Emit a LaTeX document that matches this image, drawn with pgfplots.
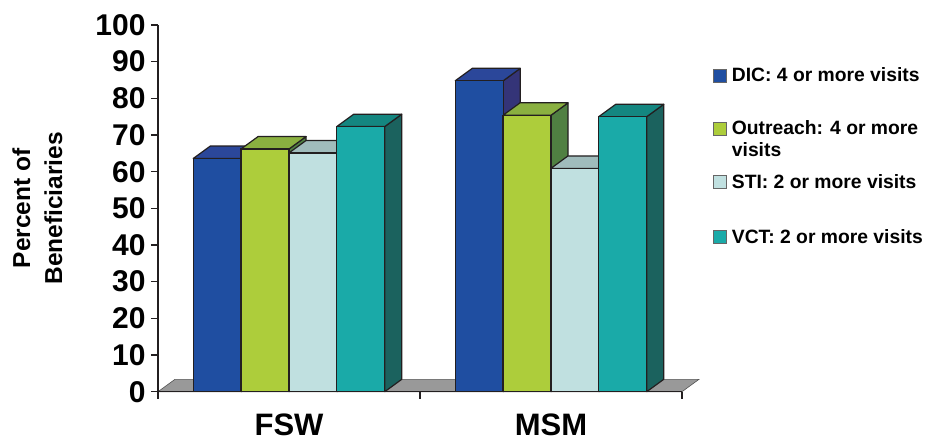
\documentclass[border=0pt]{standalone}
\usepackage{fontspec}
\setmainfont{Liberation Sans}
\usepackage{pgfplots}
\usepackage{pgfplotstable}
\pgfplotsset{compat=1.18}

% bar colours: front, top and side faces
\definecolor{edge}{HTML}{231F20}
\definecolor{dicfront}{HTML}{1F4EA1}
\definecolor{dictop}{HTML}{2B479A}
\definecolor{dicside}{HTML}{343478}
\definecolor{outfront}{HTML}{ADCD3B}
\definecolor{outtop}{HTML}{8AB040}
\definecolor{outside}{HTML}{508042}
\definecolor{stifront}{HTML}{C0E0E0}
\definecolor{stitop}{HTML}{A0BCBC}
\definecolor{stiside}{HTML}{6E8C8C}
\definecolor{vctfront}{HTML}{1AAAA8}
\definecolor{vcttop}{HTML}{148680}
\definecolor{vctside}{HTML}{1B625E}
\definecolor{floorgray}{HTML}{999999}
\definecolor{flooredge}{HTML}{555555}

% percent of beneficiaries per group
\pgfplotstableread{
x dic  outreach sti  vct
0 63.6 66.2     65.1 72.3
1 84.8 75.4     60.9 75.0
}\visits

\def\bw{0.1832}  % bar width (axis units)
\def\dx{0.0649}  % depth offset, x
\def\dy{3.38}    % depth offset, y

% side and top faces of one bar:
% #1 category, #2 bar shift, #3 value, #4 top colour, #5 side colour
\newcommand\barfaces[5]{%
  \pgfmathsetmacro\xa{#1+#2-\bw/2}%
  \pgfmathsetmacro\xb{#1+#2+\bw/2}%
  \pgfmathsetmacro\xc{\xb+\dx}%
  \pgfmathsetmacro\xd{\xa+\dx}%
  \pgfmathsetmacro\ya{#3}%
  \pgfmathsetmacro\yb{#3+\dy}%
  \edef\tmp{%
    \noexpand\addplot[draw=edge, line width=1.2pt, line join=round, fill=#5]
      coordinates {(\xb,0) (\xc,\dy) (\xc,\yb) (\xb,\ya)} -- cycle;
    \noexpand\addplot[draw=edge, line width=1.2pt, line join=round, fill=#4]
      coordinates {(\xa,\ya) (\xb,\ya) (\xc,\yb) (\xd,\yb)} -- cycle;}%
  \tmp}

\begin{document}
\begin{tikzpicture}
\begin{axis}[
  name=ax,
  scale only axis,
  width=524pt, height=366.7pt,
  xmin=-0.5, xmax=1.5, ymin=0, ymax=100,
  clip=false,
  axis on top,
  axis x line*=bottom, axis y line*=left,
  axis line style={line width=1.2pt, edge},
  tick align=outside,
  major tick length=7pt,
  tick style={line width=1.2pt, edge},
  ytick={0,10,...,100},
  xtick={-0.5,0.5,1.5},
  xticklabels={,,},
  extra x ticks={0,1},
  extra x tick labels={FSW,MSM},
  extra x tick style={major tick length=0pt},
  /pgf/number format/assume math mode=true,
  yticklabel style={font=\fontsize{30}{30}\selectfont\bfseries, xshift=-2pt},
  xticklabel style={font=\fontsize{31}{31}\selectfont\bfseries, yshift=-19pt},
  ylabel={Percent of\\Beneficiaries},
  ylabel style={font=\fontsize{24.5}{32}\selectfont\bfseries, align=center,
    at={(axis description cs:-0.23,0.5)}, anchor=center},
]
% floor
\addplot[fill=floorgray, draw=flooredge, line width=0.6pt]
  coordinates {(-0.5,0) (1.5,0) (1.5649,3.38) (-0.4351,3.38)} -- cycle;

% side and top faces, left to right
\pgfplotsforeachungrouped \r in {0,1}{%
  \pgfplotstablegetelem{\r}{dic}\of\visits
  \barfaces{\r}{-0.2738}{\pgfplotsretval}{dictop}{dicside}%
  \pgfplotstablegetelem{\r}{outreach}\of\visits
  \barfaces{\r}{-0.0913}{\pgfplotsretval}{outtop}{outside}%
  \pgfplotstablegetelem{\r}{sti}\of\visits
  \barfaces{\r}{0.0913}{\pgfplotsretval}{stitop}{stiside}%
  \pgfplotstablegetelem{\r}{vct}\of\visits
  \barfaces{\r}{0.2738}{\pgfplotsretval}{vcttop}{vctside}%
}

% front faces
\addplot[ybar, bar width=\bw, bar shift=-0.2738, fill=dicfront, draw=edge, line width=1.2pt]
  table[x=x, y=dic]{\visits};
\addplot[ybar, bar width=\bw, bar shift=-0.0913, fill=outfront, draw=edge, line width=1.2pt]
  table[x=x, y=outreach]{\visits};
\addplot[ybar, bar width=\bw, bar shift=0.0913, fill=stifront, draw=edge, line width=1.2pt]
  table[x=x, y=sti]{\visits};
\addplot[ybar, bar width=\bw, bar shift=0.2738, fill=vctfront, draw=edge, line width=1.2pt]
  table[x=x, y=vct]{\visits};
\end{axis}

% legend
\begin{scope}[shift={(ax.south west)}, x=1pt, y=-1pt, shift={(-158pt,391.7pt)}]
  \tikzset{lgsq/.style={draw=black!60, line width=0.6pt},
           lgtx/.style={anchor=base west, inner sep=0pt, font=\fontsize{19.3}{19.3}\selectfont\bfseries}}
  \filldraw[lgsq, fill=dicfront] (713,69) rectangle (726,82);
  \node[lgtx] at (731.7,81.7) {DIC: 4 or more visits};
  \filldraw[lgsq, fill=outfront] (713,122.5) rectangle (726,135.5);
  \node[lgtx] at (731.7,135) {Outreach: 4 or more};
  \node[lgtx] at (731.7,157) {visits};
  \filldraw[lgsq, fill=stifront] (713,175) rectangle (726,188);
  \node[lgtx] at (731.7,188.3) {STI: 2 or more visits};
  \filldraw[lgsq, fill=vctfront] (713,230.5) rectangle (726,243.5);
  \node[lgtx] at (731.7,244) {VCT: 2 or more visits};
  \pgfresetboundingbox
  \path[use as bounding box] (0,0) rectangle (933,441);
\end{scope}
\end{tikzpicture}
\end{document}
